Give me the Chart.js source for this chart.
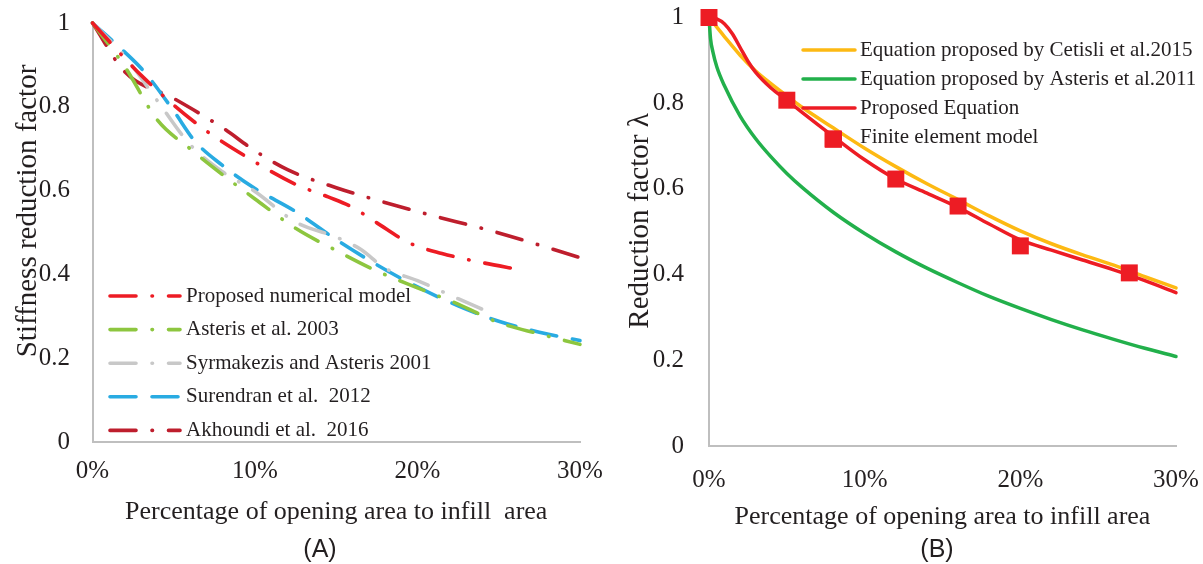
<!DOCTYPE html>
<html>
<head>
<meta charset="utf-8">
<script src="https://cdn.jsdelivr.net/npm/chart.js@4.4.1/dist/chart.umd.min.js"></script>
<style>
  html, body { margin: 0; padding: 0; background: #fff; }
  body { width: 1203px; height: 564px; position: relative; overflow: hidden; }
  canvas { position: absolute; top: 0; }
  #chartA { left: 0; }
  #chartB { left: 600px; }
  .cap { position: absolute; font-family: 'Liberation Sans', Arial, sans-serif; font-size: 25px;
         color: #231f20; transform: translateX(-50%); line-height: 28px; }
</style>
</head>
<body>
<canvas id="chartA" width="620" height="564"></canvas>
<canvas id="chartB" width="603" height="564"></canvas>
<div class="cap" style="left:320px; top:534px;">(A)</div>
<div class="cap" style="left:937px; top:534px;">(B)</div>
<script>
// ---------- Panel A: stiffness reduction factor vs opening percentage ----------
const xTickValues = [0, 10, 20, 30];
const xTickLabels = ['0%', '10%', '20%', '30%'];
const yTickLabels = ['0', '0.2', '0.4', '0.6', '0.8', '1'];

const proposedNumX = [0, 3, 6.5, 9.5, 12.5, 14.5, 16, 17.5, 19.5, 21.5, 24, 26.2];
const proposedNumY = [1.0, 0.875, 0.757, 0.68, 0.615, 0.585, 0.56, 0.523, 0.475, 0.45, 0.428, 0.412];

const asteris2003X = [0, 2, 4, 6, 8, 10, 12.5, 15, 17.5, 20, 22.5, 25, 27.5, 30];
const asteris2003Y = [1.0, 0.895, 0.768, 0.70, 0.638, 0.58, 0.51, 0.457, 0.408, 0.368, 0.329, 0.285, 0.258, 0.233];

const syrmakezisX = [0, 2, 4, 6, 8, 10, 12.5, 15, 16.5, 18, 20, 22.5, 24.5];
const syrmakezisY = [1.0, 0.92, 0.814, 0.71, 0.645, 0.598, 0.525, 0.489, 0.46, 0.415, 0.385, 0.342, 0.308];

const surendranX = [0, 2, 3.2, 5, 6.3, 8, 10, 12.5, 15, 17.5, 20, 22.5, 25, 27.5, 30];
const surendranY = [1.0, 0.93, 0.883, 0.79, 0.718, 0.66, 0.605, 0.55, 0.483, 0.423, 0.37, 0.325, 0.288, 0.262, 0.242];

const akhoundiX = [0, 2, 5, 8, 10, 12, 15, 20, 25, 30];
const akhoundiY = [1.0, 0.883, 0.82, 0.75, 0.695, 0.65, 0.607, 0.55, 0.499, 0.44];

// ---------- Panel B: reduction factor λ ----------
const femX = [0, 5, 8, 12, 16, 20, 27];
const femY = [1.0, 0.807, 0.716, 0.623, 0.56, 0.467, 0.404];

const proposedEqX = [0, 0.5, 1, 1.5, 2, 2.5, 3, 4, 5, 6, 8, 10, 12, 14, 16, 18, 20, 22, 24, 26, 28, 30];
const proposedEqY = [1.0, 0.997, 0.985, 0.962, 0.93, 0.898, 0.872, 0.835, 0.807, 0.778, 0.722, 0.668, 0.623, 0.59, 0.557, 0.518, 0.481, 0.457, 0.434, 0.411, 0.386, 0.358];

const cetisliX = [0, 1, 2, 3, 4, 5, 6, 8, 10, 12, 14, 16, 18, 20, 22, 24, 26, 28, 30];
const cetisliY = [1.0, 0.955, 0.912, 0.875, 0.845, 0.817, 0.79, 0.742, 0.695, 0.652, 0.612, 0.575, 0.537, 0.502, 0.472, 0.446, 0.422, 0.395, 0.369];

const asteris2011X = [0, 0.1, 0.25, 0.5, 1, 2, 3, 4, 5, 6, 8, 10, 12, 14, 16, 18, 20, 22, 24, 26, 28, 30];
const asteris2011Y = [1.0, 0.95, 0.92, 0.885, 0.84, 0.77, 0.717, 0.674, 0.636, 0.603, 0.545, 0.496, 0.453, 0.415, 0.381, 0.349, 0.321, 0.295, 0.271, 0.249, 0.228, 0.209];

// ---------- shared styling ----------
const SERIF = "'Liberation Serif', 'Times New Roman', serif";
const TXT = '#231f20';
const AXIS = '#bfbfbf';
const DASH_DOT = [26, 16, 0.5, 16];
const LONG_DASH = [26, 16];

const pts = (xs, ys) => xs.map((x, i) => ({ x, y: ys[i] }));

function lineSet(label, xs, ys, color, dash, width) {
  return {
    label, data: pts(xs, ys), borderColor: color, backgroundColor: color,
    borderWidth: width, borderDash: dash, borderCapStyle: 'round', borderJoinStyle: 'round',
    pointRadius: 0, fill: false, cubicInterpolationMode: 'monotone', clip: false
  };
}

// Legend drawn inside the plot area, using each dataset's own style
function insetLegend(cfg) {
  return {
    id: 'insetLegend',
    afterDatasetsDraw(chart) {
      const ctx = chart.ctx;
      ctx.save();
      ctx.font = cfg.font;
      ctx.fillStyle = TXT;
      ctx.textBaseline = 'middle';
      ctx.textAlign = 'left';
      chart.data.datasets.forEach((ds, i) => {
        const y = cfg.y0 + i * cfg.gap;
        const x0 = cfg.x, x1 = cfg.x + cfg.len;
        if (ds.showLine !== false) {
          ctx.save();
          ctx.strokeStyle = ds.borderColor;
          ctx.lineWidth = ds.borderWidth;
          ctx.lineCap = 'round';
          ctx.setLineDash(ds.borderDash || []);
          ctx.beginPath();
          ctx.moveTo(x0, y);
          ctx.lineTo(x1, y);
          ctx.stroke();
          ctx.restore();
        } else {
          const s = cfg.marker;
          const mx = (x0 + x1) / 2 + (cfg.markerDx || 0);
          const my = y + (cfg.markerDy || 0);
          ctx.save();
          ctx.fillStyle = ds.backgroundColor;
          ctx.fillRect(mx - s / 2, my - s / 2, s, s);
          ctx.restore();
        }
        ctx.fillText(ds.label, x1 + cfg.textGap, y);
      });
      ctx.restore();
    }
  };
}

// Rotated y-axis title
function yTitle(text, cx, cy) {
  return {
    id: 'yTitle',
    afterDraw(chart) {
      const ctx = chart.ctx;
      ctx.save();
      ctx.translate(cx, cy);
      ctx.rotate(-Math.PI / 2);
      ctx.font = "29px " + SERIF;
      ctx.fillStyle = TXT;
      ctx.textAlign = 'center';
      ctx.textBaseline = 'middle';
      ctx.fillText(text, 0, 0);
      ctx.restore();
    }
  };
}

// fixed scale box sizes; tick-label overflow is not reserved as extra padding
function fixBox(prop, size) {
  return (s) => {
    s[prop] = size;
    s.paddingTop = 0; s.paddingBottom = 0; s.paddingLeft = 0; s.paddingRight = 0;
  };
}

function scalesFor(opt) {
  return {
    x: {
      type: 'linear', min: 0, max: 30,
      afterBuildTicks: (s) => { s.ticks = xTickValues.map(v => ({ value: v })); },
      ticks: {
        padding: opt.xPad, autoSkip: false, maxRotation: 0,
        font: { family: SERIF, size: 25 }, color: TXT,
        callback: (v) => xTickLabels[xTickValues.indexOf(v)] ?? ''
      },
      grid: { display: false, drawTicks: false },
      border: { display: true, color: AXIS, width: 2 },
      title: {
        display: true, text: opt.xTitle, color: TXT,
        font: { family: SERIF, size: 26 }, padding: { top: 0, bottom: opt.titlePad }
      },
      afterFit: fixBox('height', opt.xHeight)
    },
    y: {
      min: 0, max: 1,
      ticks: {
        stepSize: 0.2, padding: opt.yPad,
        font: { family: SERIF, size: 25 }, color: TXT,
        callback: (v, i) => yTickLabels[i]
      },
      grid: { display: false, drawTicks: false },
      border: { display: true, color: AXIS, width: 2 },
      afterFit: fixBox('width', opt.yWidth)
    }
  };
}

// ---------- Chart A ----------
new Chart(document.getElementById('chartA'), {
  type: 'line',
  data: {
    datasets: [
      lineSet('Proposed numerical model', proposedNumX, proposedNumY, '#ed1c24', DASH_DOT, 3.6),
      lineSet('Asteris et al. 2003', asteris2003X, asteris2003Y, '#8dc63f', DASH_DOT, 3.6),
      lineSet('Syrmakezis and Asteris 2001', syrmakezisX, syrmakezisY, '#c8c8c8', DASH_DOT, 3.6),
      lineSet('Surendran et al.  2012', surendranX, surendranY, '#29abe2', LONG_DASH, 3.6),
      lineSet('Akhoundi et al.  2016', akhoundiX, akhoundiY, '#be1e2d', DASH_DOT, 3.6)
    ]
  },
  options: {
    responsive: false, animation: false, devicePixelRatio: 1,
    layout: { padding: { top: 23, right: 40, bottom: 0, left: 0 } },
    plugins: { legend: { display: false }, tooltip: { enabled: false } },
    scales: scalesFor({ xPad: 14, yPad: 22.5, xHeight: 122, yWidth: 92.5, titlePad: 36,
                        xTitle: 'Percentage of opening area to infill  area' })
  },
  plugins: [
    insetLegend({ font: "21px " + SERIF, x: 110, len: 70, textGap: 6, y0: 296, gap: 33.6 }),
    yTitle('Stiffness reduction factor', 28, 211)
  ]
});

// ---------- Chart B ----------
const femSet = {
  label: 'Finite element model', data: pts(femX, femY), showLine: false,
  pointStyle: 'rect', pointRadius: 12, pointBorderWidth: 0,
  backgroundColor: '#ed1c24', borderColor: '#ed1c24', order: 0, clip: false
};
const cetSet = lineSet('Equation proposed by Cetisli et al.2015', cetisliX, cetisliY, '#fdb913', [], 3.5);
cetSet.order = 2;
const astSet = lineSet('Equation proposed by Asteris et al.2011', asteris2011X, asteris2011Y, '#22b04b', [], 3.5);
astSet.order = 3;
const propSet = lineSet('Proposed Equation', proposedEqX, proposedEqY, '#ed1c24', [], 3.5);
propSet.order = 1;

new Chart(document.getElementById('chartB'), {
  type: 'line',
  data: { datasets: [cetSet, astSet, propSet, femSet] },
  options: {
    responsive: false, animation: false, devicePixelRatio: 1,
    layout: { padding: { top: 17.5, right: 27, bottom: 0, left: 0 } },
    plugins: { legend: { display: false }, tooltip: { enabled: false } },
    scales: scalesFor({ xPad: 19, yPad: 25, xHeight: 118, yWidth: 109, titlePad: 31.4,
                        xTitle: 'Percentage of opening area to infill area' })
  },
  plugins: [
    insetLegend({ font: "21px " + SERIF, x: 203, len: 52, textGap: 5, y0: 50, gap: 29,
                  marker: 17, markerDx: 4, markerDy: 2 }),
    yTitle('Reduction factor λ', 40, 221)
  ]
});
</script>
</body>
</html>
